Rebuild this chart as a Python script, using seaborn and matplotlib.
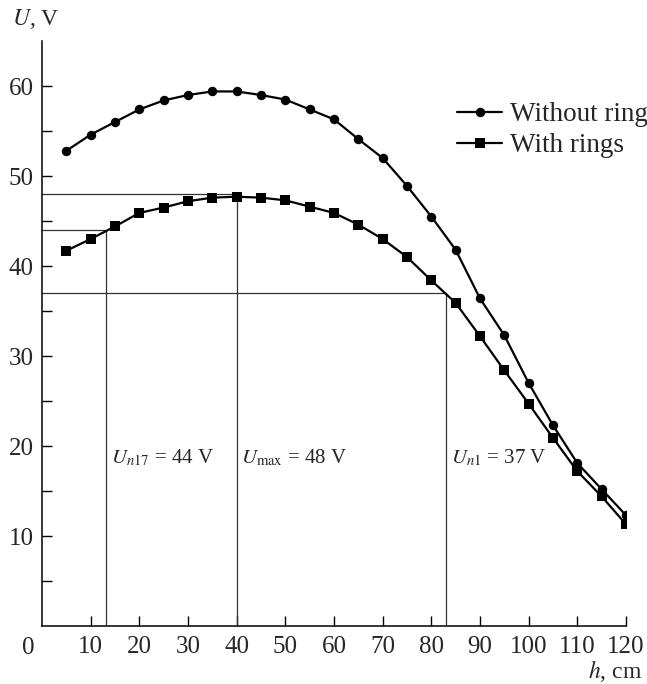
import numpy as np
import pandas as pd
import matplotlib
matplotlib.use('Agg')
import matplotlib.pyplot as plt
import seaborn as sns

# 数据
h = [5, 10, 15, 20, 25, 30, 35, 40, 45, 50, 55, 60,
     65, 70, 75, 80, 85, 90, 95, 100, 105, 110, 115, 120]
u_without = [52.8, 54.6, 56.0, 57.4, 58.4, 59.0, 59.4, 59.4, 59.0, 58.5, 57.4, 56.3,
             54.1, 52.0, 48.9, 45.5, 41.8, 36.4, 32.3, 27.0, 22.3, 18.1, 15.2, 12.3]
u_with = [41.7, 43.0, 44.4, 45.9, 46.5, 47.2, 47.6, 47.7, 47.6, 47.3, 46.6, 45.9,
          44.6, 43.0, 41.0, 38.4, 35.9, 32.2, 28.4, 24.7, 20.9, 17.2, 14.4, 11.3]
series_names = ['Without ring', 'With rings']

# 参考线
ref_h = [13.2, 40, 83.1]
ref_u = [44, 48, 37]
ref_labels = ['$U_{n17}$ = 44 V', '$U_{\\mathrm{max}}$ = 48 V', '$U_{n1}$ = 37 V']

sns.set_style('ticks')
plt.rcParams['font.family'] = ['Liberation Serif', 'DejaVu Serif']
plt.rcParams['mathtext.fontset'] = 'stix'

fig = plt.figure(figsize=(6.47, 6.84), dpi=100)
ax = fig.add_axes([0.0649, 0.0848, 0.9026, 0.8552])

# 参考线
for hx, uy in zip(ref_h, ref_u):
    ax.plot([0, hx], [uy, uy], color='#333333', lw=0.9, zorder=1)
    ax.plot([hx, hx], [0, uy], color='#333333', lw=0.9, zorder=1)

sns.lineplot(x=h, y=u_without, ax=ax, color='black', marker='o', markersize=6.8,
             markeredgewidth=0, linewidth=1.6, label=series_names[0], zorder=3)
sns.lineplot(x=h, y=u_with, ax=ax, color='black', marker='s', markersize=6.5,
             markeredgewidth=0, linewidth=1.6, label=series_names[1], zorder=3)

ax.set_xlim(0, 120)
ax.set_ylim(0, 65)
ax.set_xticks(np.arange(10, 121, 10))
ax.set_yticks(np.arange(10, 61, 10))
ax.set_yticks(np.arange(5, 60, 10), minor=True)
ax.tick_params(axis='both', which='both', direction='in', length=7, width=1,
               labelsize=18, color='black')
ax.tick_params(axis='x', pad=7)
ax.tick_params(axis='y', pad=6)
sns.despine(ax=ax)
for s in ['left', 'bottom']:
    ax.spines[s].set_linewidth(1.1)
    ax.spines[s].set_color('black')
ax.set_xlabel('')
ax.set_ylabel('')

# 原点 "0"
ax.text(-0.024, -0.037, '0', transform=ax.transAxes, fontsize=18,
        ha='center', va='center')

# 轴标题
fig.text(0.018, 0.972, '$U$, V', fontsize=17, ha='left', va='center')
fig.text(0.993, 0.019, '$h$, cm', fontsize=17, ha='right', va='center')

# 注释
for hx, lab in zip(ref_h, ref_labels):
    ax.text(hx + 0.9, 18.7, lab, fontsize=15, ha='left', va='center')

leg = ax.legend(loc='upper left', bbox_to_anchor=(0.711, 0.895), frameon=False,
                fontsize=19.5, handlelength=1.65, handletextpad=0.3,
                borderaxespad=0, borderpad=0, labelspacing=0.22)

fig.savefig('out.png', dpi=100)
